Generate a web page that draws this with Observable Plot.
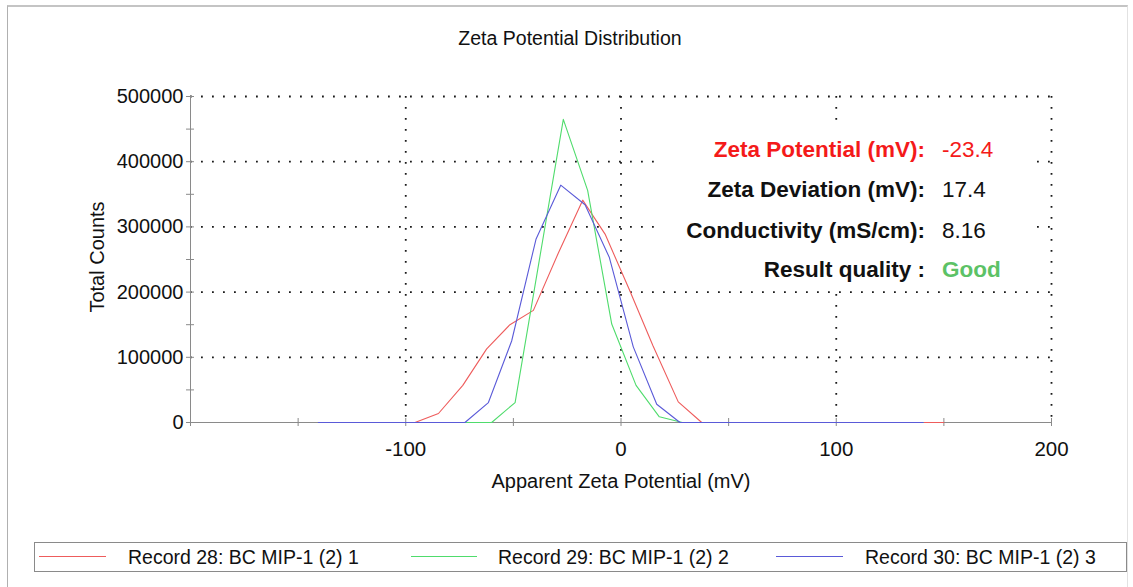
<!DOCTYPE html>
<html>
<head>
<meta charset="utf-8">
<script src="https://cdn.jsdelivr.net/npm/d3@7"></script>
<script src="https://cdn.jsdelivr.net/npm/@observablehq/plot@0.6"></script>
<style>
  body { margin: 0; background: #fff; font-family: "Liberation Sans", Arial, sans-serif; }
  #wrap { position: relative; width: 1133px; height: 587px; overflow: hidden; background: #fff; }
  #border { position: absolute; left: 7px; top: 5px; width: 1119px; height: 640px;
            border-top: 2px solid #c4c4c4; border-left: 1px solid #b0b0b0; border-right: 1px solid #e2e2e2; }
  #title { position: absolute; left: 0; top: 27px; width: 1140px; text-align: center; font-size: 19.5px; color: #111; }
  #ylabel { position: absolute; left: 97px; top: 257px; font-size: 20px; color: #111; white-space: nowrap;
            transform: translate(-50%, -50%) rotate(-90deg); }
  #chart { position: absolute; left: 0; top: 60px; }
  #chart svg { overflow: visible; }
  #annot { position: absolute; left: 660px; top: 122px; width: 375px; height: 164px; background: #fff; }
  .arow { position: absolute; left: 0; width: 375px; height: 26px; font-size: 22.5px; line-height: 26px; }
  .alab { position: absolute; right: 110px; top: 0; font-weight: bold; white-space: nowrap; }
  .aval { position: absolute; left: 282px; top: 0; white-space: nowrap; }
  #legend { position: absolute; left: 34px; top: 542px; width: 1091px; height: 28px; border: 1px solid #8a8a8a; background: #fff; }
  .lsw { position: absolute; top: 13px; height: 0; border-top: 1.2px solid; }
  .ltx { position: absolute; top: 2px; font-size: 19.5px; line-height: 24px; color: #111; white-space: nowrap; }
</style>
</head>
<body>
<div id="wrap">
  <div id="border"></div>
  <div id="title"></div>
  <div id="ylabel"></div>
  <div id="chart"></div>
  <div id="annot"></div>
  <div id="legend"></div>
</div>
<script>
// ---- data ----
const titleText = "Zeta Potential Distribution";
const xLabel = "Apparent Zeta Potential (mV)";
const yLabel = "Total Counts";

const seriesNames = ["Record 28: BC MIP-1 (2) 1", "Record 29: BC MIP-1 (2) 2", "Record 30: BC MIP-1 (2) 3"];
const seriesColors = ["#ee5c5c", "#4fdc6c", "#5a5ad8"];

const xRed   = [-140.6, -95.7, -84.8, -73.5, -62.4, -51.6, -40.7, -29.1, -17.8, -7.4, 3.7, 14.8, 26.6, 37.5, 150];
const yRed   = [0, 0, 13800, 57000, 113000, 150000, 172000, 260000, 341000, 289000, 205000, 118000, 31600, 0, 0];
const xGreen = [-140.6, -60.1, -49.2, -38.0, -26.8, -15.5, -4.3, 7.0, 17.8, 28.5, 140.4];
const yGreen = [0, 0, 30600, 248000, 465000, 356000, 151000, 57000, 8700, 0, 0];
const xBlue  = [-140.6, -72.5, -61.6, -50.8, -39.5, -28.0, -16.7, -5.4, 5.7, 16.6, 27.4, 140.4];
const yBlue  = [0, 0, 30600, 125000, 281000, 364000, 334000, 253000, 116000, 28000, 0, 0];

const xTickLabels = [-100, 0, 100, 200];
const xMinorTicks = [-200, -150, -100, -50, 0, 50, 100, 150, 200];
const yTickLabels = [0, 100000, 200000, 300000, 400000, 500000];
const yMinorTicks = [0, 50000, 100000, 150000, 200000, 250000, 300000, 350000, 400000, 450000, 500000];
const xGrid = [-100, 0, 100, 200];
const yGrid = [100000, 200000, 300000, 400000, 500000];

const annotLabels = ["Zeta Potential (mV):", "Zeta Deviation (mV):", "Conductivity (mS/cm):", "Result quality :"];
const annotValues = ["-23.4", "17.4", "8.16", "Good"];
const annotLabelColors = ["#f41a1a", "#111", "#111", "#111"];
const annotValueColors = ["#f41a1a", "#111", "#111", "#5cc266"];
const annotValueWeights = ["normal", "normal", "normal", "bold"];

// ---- build ----
const toRows = (xs, ys, s) => xs.map((x, i) => ({x, y: ys[i], s}));
const red = toRows(xRed, yRed, seriesNames[0]);
const green = toRows(xGreen, yGreen, seriesNames[1]);
const blue = toRows(xBlue, yBlue, seriesNames[2]);

document.getElementById("title").textContent = titleText;
document.getElementById("ylabel").textContent = yLabel;

const dots = {stroke: "#1a1a1a", strokeOpacity: 1, strokeWidth: 1.8, strokeDasharray: "1.8,9.2"};

const chart = Plot.plot({
  width: 1133,
  height: 450,
  marginLeft: 190,
  marginRight: 82,
  marginTop: 36,
  marginBottom: 88,
  style: {fontFamily: "'Liberation Sans', Arial, sans-serif", fontSize: "20px", color: "#111", background: "transparent", overflow: "visible"},
  x: {domain: [-200, 200]},
  y: {domain: [0, 500000]},
  marks: [
    Plot.gridX(xGrid, dots),
    Plot.gridY(yGrid, dots),
    Plot.ruleX([-200], {stroke: "#8a8a8a"}),
    Plot.ruleY([0], {stroke: "#8a8a8a"}),
    Plot.axisY({ticks: yMinorTicks, tickSize: 8, dx: 4, text: null, tickFormat: () => "", stroke: "#8a8a8a", label: null}),
    Plot.axisX({ticks: xMinorTicks, tickSize: 8, dy: -4, text: null, tickFormat: () => "", stroke: "#8a8a8a", label: null}),
    Plot.axisY({ticks: yTickLabels, tickSize: 0, tickPadding: 7, tickFormat: d => String(d), fontSize: 20, label: null}),
    Plot.axisX({ticks: xTickLabels, tickSize: 0, tickPadding: 19, tickFormat: d => String(d), fontSize: 20.5, label: null}),
    Plot.text([xLabel], {frameAnchor: "bottom", dy: 65, fontSize: 20, fill: "#111"}),
    Plot.line(red, {x: "x", y: "y", stroke: seriesColors[0], strokeWidth: 1.1}),
    Plot.line(green, {x: "x", y: "y", stroke: seriesColors[1], strokeWidth: 1.1}),
    Plot.line(blue, {x: "x", y: "y", stroke: seriesColors[2], strokeWidth: 1.1})
  ]
});
document.getElementById("chart").appendChild(chart);

// annotation block
const annot = d3.select("#annot");
const rowTops = [15, 55, 96, 135];
annotLabels.forEach((lab, i) => {
  const row = annot.append("div").attr("class", "arow").style("top", rowTops[i] + "px");
  row.append("div").attr("class", "alab").style("color", annotLabelColors[i]).text(lab);
  row.append("div").attr("class", "aval").style("color", annotValueColors[i]).style("font-weight", annotValueWeights[i]).text(annotValues[i]);
});

// legend
const legend = d3.select("#legend");
const swLeft = [4, 376, 741];
const swWidth = [67, 66, 67];
const txLeft = [93, 463, 830];
seriesNames.forEach((name, i) => {
  legend.append("div").attr("class", "lsw").style("left", swLeft[i] + "px").style("width", swWidth[i] + "px").style("border-top-color", seriesColors[i]);
  legend.append("div").attr("class", "ltx").style("left", txLeft[i] + "px").text(name);
});
</script>
</body>
</html>
